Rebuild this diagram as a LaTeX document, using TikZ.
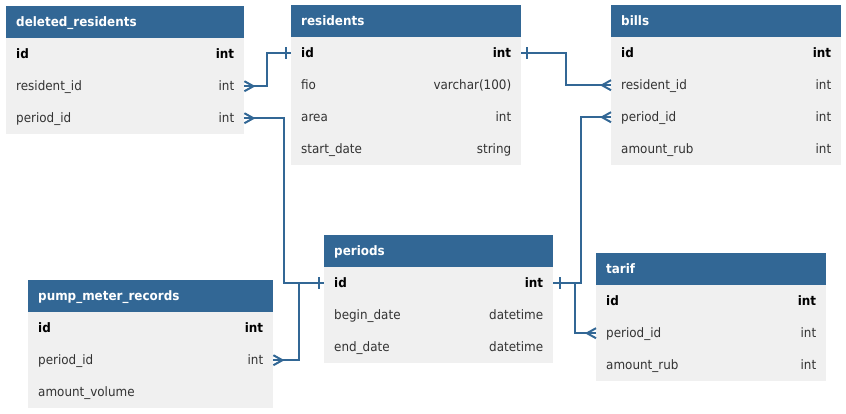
\documentclass[tikz,border=0pt]{standalone}
\usepackage{fontspec}
\setmainfont{DejaVu Sans}[FakeStretch=0.92]
\usetikzlibrary{calc}
\definecolor{hdrcol}{RGB}{50,103,149}
\definecolor{bodycol}{RGB}{240,240,240}
\definecolor{txtcol}{RGB}{51,51,51}
\tikzset{
  hdrbox/.style={fill=hdrcol, draw=none, minimum height=32pt, inner sep=0pt, anchor=north west},
  hdrtext/.style={text=white, font=\fontsize{13}{15}\selectfont\bfseries, inner sep=0pt, anchor=base west},
  rowbox/.style={fill=bodycol, draw=none, minimum height=32pt, inner sep=0pt, anchor=north west},
  celltext/.style={text=txtcol, font=\fontsize{13}{15}\selectfont, inner sep=0pt},
  conn/.style={draw=hdrcol, line width=2pt},
}
% #1 id, #2 x, #3 y, #4 width, #5 title, #6 rows key/field/type
\newcommand\dbtable[6]{%
  \node[hdrbox, minimum width=#4pt] (#1) at (#2,#3) {};
  \node[hdrtext] at ([xshift=10pt,yshift=-4.7pt]#1.west) {#5};
  \foreach \k/\f/\t [count=\i from 0] in {#6} {
    \node[rowbox, minimum width=#4pt] (#1-\k) at (#2,{#3+32+32*\i}) {};
    \ifnum\i=0
      \node[celltext, text=black, font=\fontsize{13}{15}\selectfont\bfseries, anchor=base west] at ([xshift=10pt,yshift=-4.7pt]#1-\k.west) {\f};
      \node[celltext, text=black, font=\fontsize{13}{15}\selectfont\bfseries, anchor=base east] at ([xshift=-10pt,yshift=-4.7pt]#1-\k.east) {\t};
    \else
      \node[celltext, anchor=base west] at ([xshift=10pt,yshift=-4.7pt]#1-\k.west) {\f};
      \node[celltext, anchor=base east] at ([xshift=-10pt,yshift=-4.7pt]#1-\k.east) {\t};
    \fi
  }%
}
\begin{document}
\begin{tikzpicture}[x=1pt,y=-1pt]
\useasboundingbox[fill=white] (0,0) rectangle (846,413);

\dbtable{del}{6}{6}{238}{deleted\_residents}{id/id/int, rid/resident\_id/int, pid/period\_id/int}
\dbtable{res}{291}{5}{230}{residents}{id/id/int, fio/fio/varchar(100), area/area/int, sd/start\_date/string}
\dbtable{bil}{611}{5}{230}{bills}{id/id/int, rid/resident\_id/int, pid/period\_id/int, am/amount\_rub/int}
\dbtable{per}{324}{235}{229}{periods}{id/id/int, bd/begin\_date/datetime, ed/end\_date/datetime}
\dbtable{pmr}{28}{280}{245}{pump\_meter\_records}{id/id/int, pid/period\_id/int, av/amount\_volume/{}}
\dbtable{tar}{596}{253}{230}{tarif}{id/id/int, pid/period\_id/int, am/amount\_rub/int}

% connectors
\draw[conn] (del-rid.east) -- ++(23,0) |- (res-id.west);
\draw[conn] (del-pid.east) -- ++(40,0) |- (per-id.west);
\draw[conn] (pmr-pid.east) -- ++(26,0) |- (per-id.west);
\draw[conn] (res-id.east) -- ++(45,0) |- (bil-rid.west);
\draw[conn] (per-id.east) -- ++(28,0) |- (bil-pid.west);
\draw[conn] (per-id.east) -- ++(22,0) |- (tar-pid.west);

% one bars
\draw[conn, shift={(res-id.west)}] (-5,-6) -- (-5,6);
\draw[conn, shift={(res-id.east)}] (6,-6) -- (6,6);
\draw[conn, shift={(per-id.west)}] (-5,-6) -- (-5,6);
\draw[conn, shift={(per-id.east)}] (7,-6) -- (7,6);

% crow's feet
\draw[conn, shift={(del-rid.east)}] (0,-5) -- (9,0) -- (0,5);
\draw[conn, shift={(del-pid.east)}] (0,-5) -- (9,0) -- (0,5);
\draw[conn, shift={(pmr-pid.east)}] (0,-5) -- (9,0) -- (0,5);
\draw[conn, shift={(bil-rid.west)}] (0,-5) -- (-9,0) -- (0,5);
\draw[conn, shift={(bil-pid.west)}] (0,-5) -- (-9,0) -- (0,5);
\draw[conn, shift={(tar-pid.west)}] (0,-5) -- (-9,0) -- (0,5);
\end{tikzpicture}
\end{document}
